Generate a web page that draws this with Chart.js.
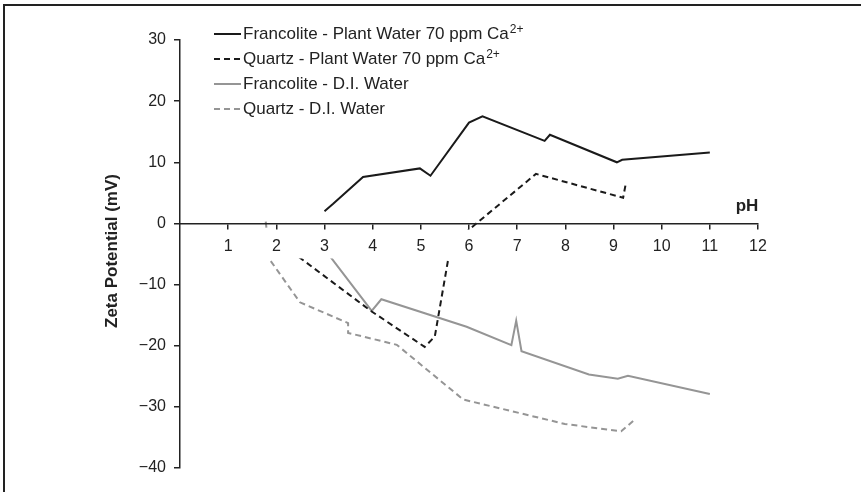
<!DOCTYPE html>
<html>
<head>
<meta charset="utf-8">
<script src="https://cdn.jsdelivr.net/npm/chart.js@4.4.1/dist/chart.umd.min.js"></script>
<style>
  body { margin: 0; background: #fff; }
  #wrap { position: relative; width: 861px; height: 492px; }
  #wrap:before { content: ""; position: absolute; left: 3px; top: 4px; width: 858px; height: 488px;
    border-left: 2.5px solid #222; border-top: 2.5px solid #222; pointer-events: none; z-index: 2; }
</style>
</head>
<body>
<div id="wrap"><canvas id="chart" width="861" height="492"></canvas></div>
<script>
// series (pH, mV)
const francolitePlantX = [3.0, 3.18, 3.8, 4.98, 5.2, 6.0, 6.28, 7.57, 7.68, 9.07, 9.18, 11.0]
const francolitePlantY = [2.0, 3.2, 7.6, 9.0, 7.8, 16.5, 17.5, 13.5, 14.5, 10.0, 10.4, 11.6]
const quartzPlantX = [2.3, 3.98, 5.08, 5.29, 5.62, 7.39, 9.2, 9.25]
const quartzPlantY = [-4.5, -14.4, -20.2, -18.5, -3.5, 8.1, 4.2, 6.3]
const francoliteDIX = [3.0, 3.98, 4.18, 5.95, 6.88, 6.98, 7.09, 8.49, 9.09, 9.3, 11.0]
const francoliteDIY = [-4.2, -14.3, -12.4, -16.9, -19.9, -15.9, -20.9, -24.7, -25.4, -24.9, -27.9]
const quartzDIX = [1.78, 1.87, 2.49, 3.49, 3.49, 4.5, 5.88, 7.99, 9.16, 9.41]
const quartzDIY = [0.3, -6.0, -12.9, -16.3, -17.9, -19.85, -28.8, -32.8, -34.0, -32.3]

const xTicks = [1, 2, 3, 4, 5, 6, 7, 8, 9, 10, 11, 12]
const yTicks = [30, 20, 10, 0, -10, -20, -30, -40]

const FONT = "'Liberation Sans', Arial, sans-serif"
const TXT = '#222'

function pts(xs, ys) {
    return xs.map((x, i) => ({ x: x, y: ys[i] }))
}

const series = [
    { label: 'Francolite - Plant Water 70 ppm Ca', sup: '2+', data: pts(francolitePlantX, francolitePlantY), color: '#1a1a1a', dash: [] },
    { label: 'Quartz - Plant Water 70 ppm Ca', sup: '2+', data: pts(quartzPlantX, quartzPlantY), color: '#1a1a1a', dash: [6, 4] },
    { label: 'Francolite - D.I. Water', sup: '', data: pts(francoliteDIX, francoliteDIY), color: '#959595', dash: [] },
    { label: 'Quartz - D.I. Water', sup: '', data: pts(quartzDIX, quartzDIY), color: '#959595', dash: [6, 4] }
]

// white strip behind the x tick labels (lines disappear under it)
const labelBand = {
    id: 'labelBand',
    afterDatasetsDraw(chart) {
        const ctx = chart.ctx
        const y0 = chart.scales.y.getPixelForValue(0)
        ctx.save()
        ctx.fillStyle = '#fff'
        ctx.fillRect(chart.chartArea.left + 1, y0 + 6, chart.chartArea.right - chart.chartArea.left + 20, 29)
        ctx.restore()
    }
}

// legend, y title, pH label
const extras = {
    id: 'extras',
    afterDraw(chart) {
        const ctx = chart.ctx
        ctx.save()
        series.forEach(function (s, i) {
            var y = 34 + i * 25
            ctx.strokeStyle = s.color
            ctx.lineWidth = 2
            ctx.setLineDash(s.dash)
            ctx.beginPath()
            ctx.moveTo(214, y)
            ctx.lineTo(241, y)
            ctx.stroke()
            ctx.setLineDash([])
            ctx.fillStyle = TXT
            ctx.font = '17px ' + FONT
            ctx.textBaseline = 'middle'
            ctx.textAlign = 'left'
            ctx.fillText(s.label, 243, y)
            if (s.sup) {
                var w = ctx.measureText(s.label).width
                ctx.font = '12px ' + FONT
                ctx.fillText(s.sup, 243 + w + 1, y - 4)
            }
        })

        ctx.font = 'bold 17px ' + FONT
        ctx.fillStyle = TXT
        ctx.textAlign = 'center'
        ctx.textBaseline = 'middle'
        ctx.fillText('pH', 747, 206)

        ctx.translate(112, 251)
        ctx.rotate(-Math.PI / 2)
        ctx.fillText('Zeta Potential (mV)', 0, 0)
        ctx.restore()
    }
}

const config = {
    type: 'scatter',
    data: {
        datasets: series.map(s => ({
            label: s.label,
            data: s.data,
            showLine: true,
            borderColor: s.color,
            borderWidth: 2,
            borderDash: s.dash,
            pointRadius: 0,
            tension: 0,
            fill: false
        }))
    },
    options: {
        responsive: false,
        animation: false,
        layout: { padding: { left: 0, top: 40, right: 103, bottom: 24 } },
        plugins: {
            legend: { display: false },
            tooltip: { enabled: false }
        },
        scales: {
            x: {
                type: 'linear',
                position: { y: 0 },
                min: 0,
                max: 12,
                afterBuildTicks: function (scale) {
                    scale.ticks = xTicks.map(v => ({ value: v }))
                },
                grid: { drawOnChartArea: false, drawTicks: true, tickLength: 5, color: '#222', lineWidth: 1.5, z: 1 },
                border: { display: true, color: '#222', width: 1.5, z: 1 },
                ticks: {
                    font: { family: FONT, size: 16 },
                    color: TXT,
                    padding: 9,
                    maxRotation: 0,
                    autoSkip: false,
                    z: 1
                }
            },
            y: {
                type: 'linear',
                min: -40,
                max: 30,
                afterFit: function (scale) { scale.width = 180 },
                afterBuildTicks: function (scale) {
                    scale.ticks = yTicks.map(v => ({ value: v }))
                },
                grid: { drawOnChartArea: false, drawTicks: true, tickLength: 6, color: '#222', lineWidth: 1.5 },
                border: { display: true, color: '#222', width: 1.5 },
                ticks: {
                    font: { family: FONT, size: 16 },
                    color: TXT,
                    padding: 8,
                    autoSkip: false,
                    callback: function (v) { return v < 0 ? '\u2212' + Math.abs(v) : String(v) }
                }
            }
        }
    },
    plugins: [labelBand, extras]
}

const chart = new Chart(document.getElementById('chart'), config)
</script>
</body>
</html>
